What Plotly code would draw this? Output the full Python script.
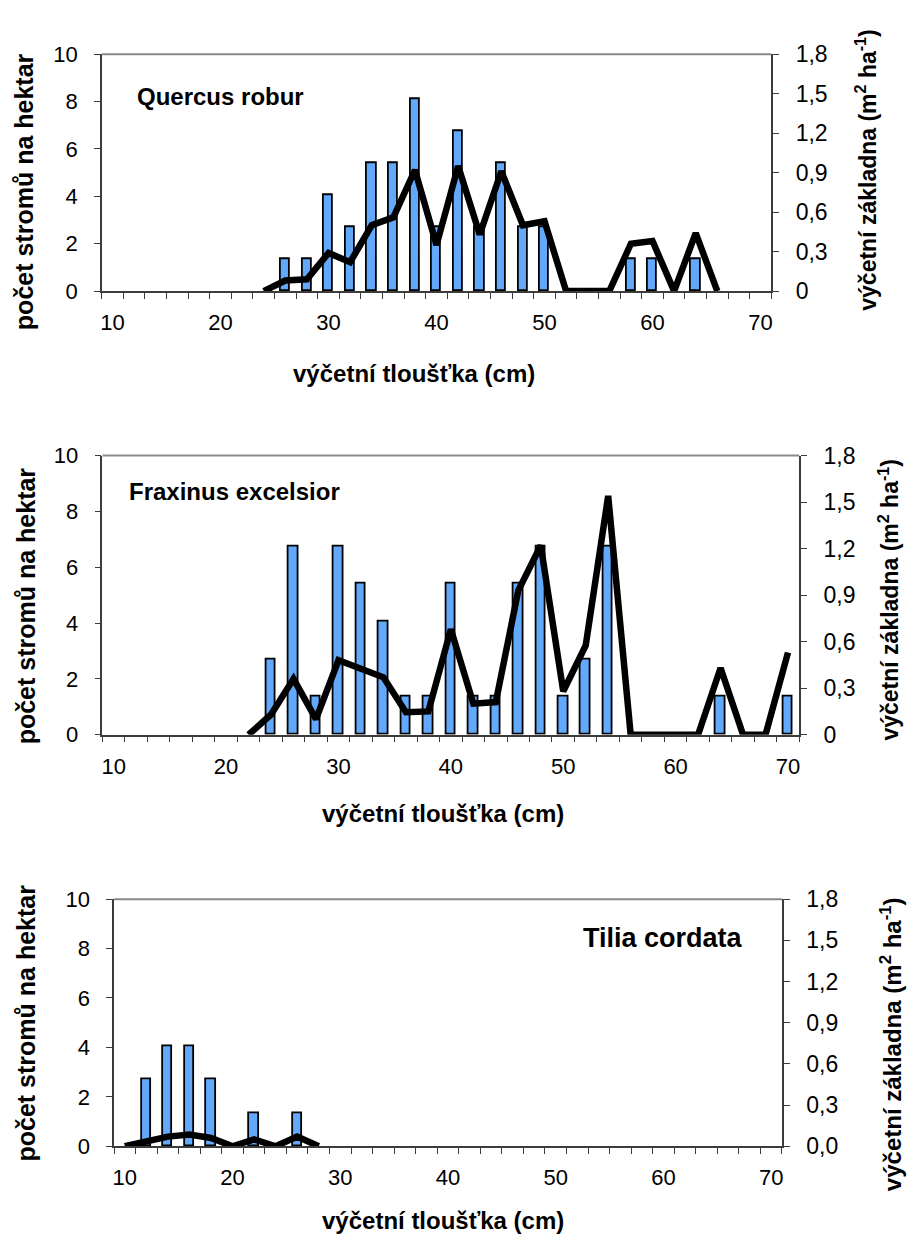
import plotly.graph_objects as go

# ---------------- data ----------------
diameters = list(range(10, 71, 2))  # výčetní tloušťka (cm), 31 classes

quercus_trees = [0, 0, 0, 0, 0, 0, 0, 0, 1.35, 1.35, 4.05, 2.7, 5.4, 5.4, 8.1, 2.7,
                 6.75, 2.7, 5.4, 2.7, 2.7, 0, 0, 0, 1.35, 1.35, 0, 1.35, 0, 0, 0]
quercus_basal = [None, None, None, None, None, None, None, 0, 0.08, 0.09, 0.29, 0.22,
                 0.50, 0.56, 0.92, 0.35, 0.95, 0.43, 0.91, 0.50, 0.53, 0, 0, 0,
                 0.36, 0.38, 0, 0.44, 0, None, None]

fraxinus_trees = [0, 0, 0, 0, 0, 0, 0, 2.7, 6.75, 1.35, 6.75, 5.4, 4.05, 1.35, 1.35,
                  5.4, 1.35, 1.35, 5.4, 6.75, 1.35, 2.7, 6.75, 0, 0, 0, 0, 1.35, 0, 0, 1.35]
fraxinus_basal = [None, None, None, None, None, None, 0, 0.13, 0.36, 0.10, 0.48, 0.43,
                  0.37, 0.145, 0.15, 0.68, 0.20, 0.21, 0.93, 1.22, 0.28, 0.575, 1.54,
                  0, 0, 0, 0, 0.43, 0, 0, 0.53]

tilia_trees = [0, 2.7, 4.05, 4.05, 2.7, 0, 1.35, 0, 1.35, 0, 0, 0, 0, 0, 0, 0,
               0, 0, 0, 0, 0, 0, 0, 0, 0, 0, 0, 0, 0, 0, 0]
tilia_basal = [0, 0.04, 0.07, 0.085, 0.06, 0, 0.05, 0, 0.07, 0, None, None, None, None,
               None, None, None, None, None, None, None, None, None, None, None, None,
               None, None, None, None, None]

species = ["Quercus robur", "Fraxinus excelsior", "Tilia cordata"]
left_ticks = [0, 2, 4, 6, 8, 10]
right_ticks = [0, 0.3, 0.6, 0.9, 1.2, 1.5, 1.8]
right_text_a = ["0", "0,3", "0,6", "0,9", "1,2", "1,5", "1,8"]
right_text_b = ["0,0", "0,3", "0,6", "0,9", "1,2", "1,5", "1,8"]
x_labels = [10, 20, 30, 40, 50, 60, 70]

x_title = "výčetní tloušťka (cm)"
yl_title = "počet stromů na hektar"
yr_title = "výčetní základna (m<sup>2</sup> ha<sup>-1</sup>)"

# ---------------- layout helpers ----------------
W, H = 908, 1250
def px(x):
    return x / W
def py(y):
    return 1 - y / H

FONT = "Liberation Sans, Arial, sans-serif"
AXC = "#3c3c3c"
BAR = "#63a9fb"

# plot areas in pixels: left, right, top, bottom
panels = [
    dict(l=101, r=772, t=42, b=284),
    dict(l=101.7, r=800, t=452, b=737),
    dict(l=113.3, r=782.7, t=905, b=1157.3),
]

fig = go.Figure()
trees = [quercus_trees, fraxinus_trees, tilia_trees]
basal = [quercus_basal, fraxinus_basal, tilia_basal]

for i, p in enumerate(panels):
    xa = "x" if i == 0 else f"x{i+1}"
    yl = f"y{2*i+1}" if i > 0 else "y"
    yr = f"y{2*i+2}"
    # empty classes are not drawn as bars
    bar_vals = [v if v else None for v in trees[i]]
    fig.add_trace(go.Bar(x=diameters, y=bar_vals, xaxis=xa, yaxis=yl, width=0.85,
                         marker=dict(color=BAR, line=dict(color="black", width=1.8)),
                         showlegend=False))
    fig.add_trace(go.Scatter(x=diameters, y=basal[i], xaxis=xa, yaxis=yr, mode="lines",
                             line=dict(color="black", width=6.5), connectgaps=False,
                             showlegend=False))

    xk = "xaxis" if i == 0 else f"xaxis{i+1}"
    ylk = "yaxis" if i == 0 else f"yaxis{2*i+1}"
    yrk = f"yaxis{2*i+2}"
    xname = "x" if i == 0 else f"x{i+1}"
    ylname = "y" if i == 0 else f"y{2*i+1}"
    tickfont = dict(family=FONT, size=22, color="black")
    rfont = dict(family=FONT, size=23, color="black")
    fig.layout[xk] = dict(domain=[px(p["l"]), px(p["r"])], anchor=ylname, range=[9, 71],
                          tickvals=x_labels, ticks="", showgrid=False, zeroline=False,
                          showline=True, linecolor=AXC, linewidth=1.5,
                          tickfont=tickfont, ticklabelstandoff=11,
                          minor=dict(ticks="outside", tick0=9, dtick=2, ticklen=6,
                                     tickcolor=AXC, tickwidth=1.2, showgrid=False))
    fig.layout[ylk] = dict(domain=[py(p["b"]), py(p["t"])], anchor=xname, range=[0, 10],
                           tickvals=left_ticks, ticks="outside", ticklen=6, tickcolor=AXC,
                           showgrid=False, zeroline=False, showline=True, linecolor=AXC,
                           linewidth=1.5, tickfont=tickfont, ticklabelstandoff=12)
    fig.layout[yrk] = dict(domain=[py(p["b"]), py(p["t"])], anchor=xname, overlaying=ylname,
                           side="right", range=[0, 1.8], tickvals=right_ticks,
                           ticktext=right_text_b if i == 2 else right_text_a,
                           ticks="outside", ticklen=6, tickcolor=AXC, showgrid=False,
                           zeroline=False, showline=True, linecolor=AXC, linewidth=1.5,
                           tickfont=rfont, ticklabelstandoff=12)
    # gray top border
    fig.add_shape(type="line", xref="paper", yref="paper", x0=px(p["l"]), x1=px(p["r"]),
                  y0=py(p["t"]), y1=py(p["t"]), line=dict(color="#8a8a8a", width=2))

# titles
bold = dict(family=FONT, color="black")
x_title_pos = [(414, 368), (443, 818), (443, 1233)]
yl_title_pos = [(23, 182), (25, 605), (25, 1031)]
yr_title_pos = [(867, 161), (889, 600), (892, 1053)]
yr_sizes = [23, 23, 24]
for i in range(3):
    fig.add_annotation(text=f"<b>{x_title}</b>", x=px(x_title_pos[i][0]), y=py(x_title_pos[i][1]),
                       xref="paper", yref="paper", showarrow=False, xanchor="center",
                       yanchor="middle", font=dict(size=24, **bold))
    fig.add_annotation(text=f"<b>{yl_title}</b>", x=px(yl_title_pos[i][0]), y=py(yl_title_pos[i][1]),
                       xref="paper", yref="paper", showarrow=False, textangle=-90,
                       xanchor="center", yanchor="middle", font=dict(size=25, **bold))
    fig.add_annotation(text=f"<b>{yr_title}</b>", x=px(yr_title_pos[i][0]), y=py(yr_title_pos[i][1]),
                       xref="paper", yref="paper", showarrow=False, textangle=-90,
                       xanchor="center", yanchor="middle", font=dict(size=yr_sizes[i], **bold))

fig.add_annotation(text=f"<b>{species[0]}</b>", x=px(134), y=py(85), xref="paper", yref="paper",
                   showarrow=False, xanchor="left", yanchor="middle", font=dict(size=24, **bold))
fig.add_annotation(text=f"<b>{species[1]}</b>", x=px(126), y=py(489), xref="paper", yref="paper",
                   showarrow=False, xanchor="left", yanchor="middle", font=dict(size=24, **bold))
fig.add_annotation(text=f"<b>{species[2]}</b>", x=px(746), y=py(945), xref="paper", yref="paper",
                   showarrow=False, xanchor="right", yanchor="middle", font=dict(size=27, **bold))

fig.update_layout(width=W, height=H, margin=dict(l=0, r=0, t=0, b=0),
                  paper_bgcolor="white", plot_bgcolor="white", bargap=0,
                  font=dict(family=FONT, color="black"))

fig.write_html("out.html")
